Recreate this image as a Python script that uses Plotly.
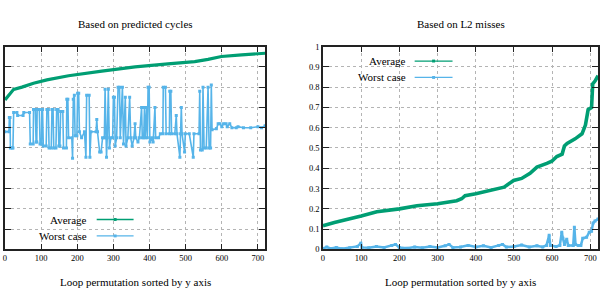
import plotly.graph_objects as go

# ---------------- data ----------------
x_ticks = [0, 100, 200, 300, 400, 500, 600, 700]
y_ticks = [0, 0.1, 0.2, 0.3, 0.4, 0.5, 0.6, 0.7, 0.8, 0.9, 1]
y_tick_labels = ["0", "0.1", "0.2", "0.3", "0.4", "0.5", "0.6", "0.7", "0.8", "0.9", "1"]

# Left panel: based on predicted cycles
cyc_avg_x = [0, 10, 24, 47, 79, 116, 176, 268, 360, 451, 525, 562, 599, 655, 720]
cyc_avg_y = [0.737, 0.757, 0.789, 0.80, 0.819, 0.836, 0.856, 0.879, 0.90, 0.915, 0.926, 0.937, 0.951, 0.959, 0.967]

cyc_worst_x = [0, 11, 12, 14, 15, 20, 22, 24, 33, 35, 50, 52, 68, 70, 78, 79, 84, 86, 88, 89,
               95, 97, 101, 102, 104, 106, 114, 116, 120, 122, 128, 130, 133, 135, 141, 143, 147, 149, 152, 154,
               160, 162, 170, 171, 174, 176, 185, 187, 189, 192, 194, 199, 201, 204, 206, 212, 220, 224, 226, 233,
               235, 238, 252, 254, 256, 262, 266, 270, 275, 277, 279, 281, 283, 286, 289, 293, 298, 300, 303, 305,
               309, 313, 317, 319, 325, 328, 333, 335, 340, 345, 348, 352, 357, 360, 362, 368, 372, 378, 380, 384,
               386, 388, 392, 394, 396, 399, 401, 406, 410, 415, 417, 425, 430, 437, 438, 444, 446, 455, 456, 459,
               461, 470, 474, 476, 484, 486, 488, 490, 497, 499, 510, 521, 523, 537, 539, 541, 546, 548, 551, 557,
               562, 565, 569, 571, 573, 585, 590, 595, 600, 605, 612, 615, 622, 628, 640, 645, 660, 680, 700, 710, 720]
cyc_worst_y = [0.58, 0.58, 0.65, 0.65, 0.50, 0.50, 0.50, 0.675, 0.675, 0.66, 0.66, 0.675, 0.675, 0.52, 0.52, 0.69, 0.69, 0.53, 0.53, 0.69,
               0.69, 0.52, 0.52, 0.69, 0.69, 0.51, 0.51, 0.69, 0.69, 0.50, 0.50, 0.69, 0.69, 0.50, 0.50, 0.69, 0.69, 0.51, 0.51, 0.68,
               0.68, 0.50, 0.50, 0.74, 0.74, 0.55, 0.55, 0.45, 0.74, 0.76, 0.56, 0.56, 0.77, 0.77, 0.58, 0.55, 0.58, 0.455, 0.76, 0.76,
               0.455, 0.58, 0.58, 0.64, 0.58, 0.48, 0.48, 0.55, 0.55, 0.79, 0.55, 0.455, 0.55, 0.79, 0.50, 0.55, 0.55, 0.75, 0.75, 0.51,
               0.55, 0.80, 0.80, 0.55, 0.80, 0.52, 0.75, 0.51, 0.55, 0.75, 0.55, 0.51, 0.55, 0.62, 0.55, 0.53, 0.55, 0.70, 0.55, 0.55,
               0.70, 0.55, 0.70, 0.55, 0.80, 0.80, 0.53, 0.55, 0.53, 0.70, 0.55, 0.55, 0.57, 0.57, 0.80, 0.80, 0.57, 0.57, 0.78, 0.78,
               0.57, 0.57, 0.66, 0.57, 0.455, 0.57, 0.70, 0.57, 0.48, 0.57, 0.57, 0.455, 0.57, 0.57, 0.78, 0.49, 0.49, 0.80, 0.50, 0.50,
               0.80, 0.50, 0.50, 0.81, 0.59, 0.595, 0.62, 0.62, 0.605, 0.62, 0.62, 0.605, 0.62, 0.60, 0.60, 0.605, 0.60, 0.60, 0.605, 0.60, 0.61]

# Right panel: based on L2 misses
l2_avg_x = [0, 30, 100, 141, 200, 246, 300, 350, 363, 372, 400, 438, 474, 499, 520, 542, 560, 586, 599, 612,
            626, 632, 639, 660, 678, 687, 690, 694, 703, 706, 712, 720]
l2_avg_y = [0.117, 0.133, 0.165, 0.186, 0.20, 0.215, 0.225, 0.24, 0.25, 0.265, 0.275, 0.29, 0.307, 0.34, 0.35, 0.375,
            0.406, 0.424, 0.435, 0.458, 0.47, 0.51, 0.522, 0.545, 0.57, 0.613, 0.65, 0.689, 0.70, 0.816, 0.83, 0.856]

l2_worst_x = [0, 10, 20, 35, 50, 70, 90, 99, 102, 120, 140, 160, 180, 190, 200, 220, 240, 260, 280, 300,
              320, 330, 340, 360, 380, 400, 420, 440, 460, 470, 480, 500, 520, 540, 560, 575, 585, 592, 595, 610,
              620, 625, 628, 632, 638, 642, 655, 658, 661, 668, 675, 680, 690, 697, 703, 707, 712, 720]
l2_worst_y = [0.005, 0.012, 0.005, 0.01, 0.004, 0.008, 0.015, 0.03, 0.01, 0.008, 0.015, 0.01, 0.02, 0.025, 0.01, 0.006,
              0.012, 0.008, 0.015, 0.01, 0.018, 0.025, 0.01, 0.012, 0.02, 0.012, 0.018, 0.01, 0.02, 0.025, 0.012, 0.015,
              0.022, 0.012, 0.018, 0.012, 0.02, 0.07, 0.02, 0.015, 0.02, 0.085, 0.055, 0.025, 0.05, 0.02, 0.02, 0.11,
              0.025, 0.02, 0.02, 0.055, 0.06, 0.085, 0.09, 0.13, 0.14, 0.15]

titles = ["Based on predicted cycles", "Based on L2 misses"]
x_title = "Loop permutation sorted by y axis"
legend_names = ["Average", "Worst case"]

# ---------------- styling ----------------
GREEN = "#009e73"
BLUE = "#56b4e9"
FONT = "Liberation Serif"
W, H = 616, 296

def px(x):
    return x / W

def py(y):
    return 1 - y / H

fig = go.Figure()

fig.add_trace(go.Scatter(x=cyc_worst_x, y=cyc_worst_y, mode="lines+markers", xaxis="x", yaxis="y",
                         line=dict(color=BLUE, width=1.6), marker=dict(symbol="square", size=3, color=BLUE),
                         showlegend=False))
fig.add_trace(go.Scatter(x=cyc_avg_x, y=cyc_avg_y, mode="lines", xaxis="x", yaxis="y",
                         line=dict(color=GREEN, width=3.2), showlegend=False))
fig.add_trace(go.Scatter(x=l2_worst_x, y=l2_worst_y, mode="lines+markers", xaxis="x2", yaxis="y2",
                         line=dict(color=BLUE, width=2.5), marker=dict(symbol="square", size=3, color=BLUE),
                         showlegend=False))
fig.add_trace(go.Scatter(x=l2_avg_x, y=l2_avg_y, mode="lines", xaxis="x2", yaxis="y2",
                         line=dict(color=GREEN, width=3.6), showlegend=False))

ydom = [py(253), py(43)]
axis_common = dict(showline=True, linecolor="#222222", linewidth=1.5, mirror="allticks",
                   ticks="inside", ticklen=6, tickwidth=1.2, tickcolor="#222222",
                   showgrid=True, gridcolor="#b4b4b4", griddash="dot", gridwidth=1,
                   zeroline=False, tickfont=dict(family=FONT, size=8.5, color="black"))

fig.update_layout(
    width=W, height=H, margin=dict(l=0, r=0, t=0, b=0),
    paper_bgcolor="white", plot_bgcolor="white", showlegend=False,
    xaxis=dict(domain=[px(3), px(264)], range=[0, 720], tickvals=x_ticks, anchor="y", **axis_common),
    yaxis=dict(domain=ydom, range=[0, 1], tickvals=y_ticks, showticklabels=False, anchor="x", **axis_common),
    xaxis2=dict(domain=[px(322), px(598)], range=[0, 720], tickvals=x_ticks, anchor="y2", **axis_common),
    yaxis2=dict(domain=ydom, range=[0, 1], tickvals=y_ticks, ticktext=y_tick_labels, anchor="x2", **axis_common),
)

annotations = []
shapes = []
for cx, t in [(133.5, titles[0]), (460, titles[1])]:
    annotations.append(dict(text=t, x=px(cx), y=py(20), xref="paper", yref="paper", showarrow=False,
                            xanchor="center", yanchor="middle", font=dict(family=FONT, size=11, color="black")))
    annotations.append(dict(text=x_title, x=px(cx), y=py(287), xref="paper", yref="paper", showarrow=False,
                            xanchor="center", yanchor="middle", font=dict(family=FONT, size=11, color="black")))

legend_specs = [
    (87, 95, 132, [222, 239]),
    (407, 414, 452, [58, 75]),
]
for tx, lx0, lx1, rows in legend_specs:
    for name, ry, col in zip(legend_names, rows, [GREEN, BLUE]):
        annotations.append(dict(text=name, x=px(tx), y=py(ry), xref="paper", yref="paper", showarrow=False,
                                xanchor="right", yanchor="middle", font=dict(family=FONT, size=11, color="black")))
        shapes.append(dict(type="line", xref="paper", yref="paper", x0=px(lx0), x1=px(lx1), y0=py(ry), y1=py(ry),
                           line=dict(color=col, width=1.3)))
        mx = (lx0 + lx1) / 2
        shapes.append(dict(type="rect", xref="paper", yref="paper", x0=px(mx - 1.5), x1=px(mx + 1.5),
                           y0=py(ry + 1.5), y1=py(ry - 1.5), line=dict(width=0), fillcolor=col))

fig.update_layout(annotations=annotations, shapes=shapes)
fig.write_html("out.html", config={"displayModeBar": False},
               post_script="document.body.style.margin='0';document.body.style.padding='0';")
